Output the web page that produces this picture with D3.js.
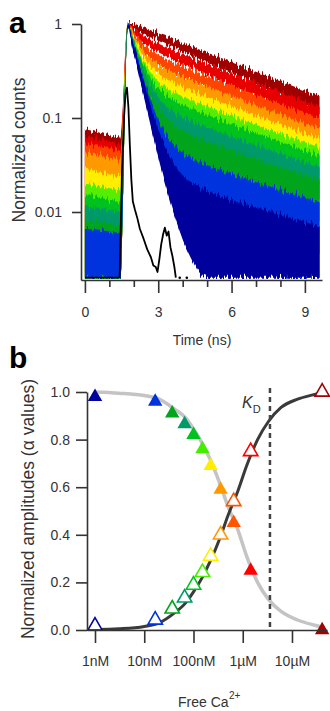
<!DOCTYPE html>
<html>
<head>
<meta charset="utf-8">
<script src="https://cdn.jsdelivr.net/npm/d3@7"></script>
<style>
  body { margin: 0; background: #fff; }
  svg { display: block; font-family: "Liberation Sans", Arial, sans-serif; }
</style>
</head>
<body>
<svg id="chart" width="330" height="711"></svg>
<script>
// ---- panel a: normalized fluorescence decays (upper / lower edge of each noisy trace)
const timeNs = [0.0, 0.5, 1.0, 1.45, 1.75, 2.0, 2.25, 2.5, 2.75, 3.25, 3.75, 4.25, 5.0, 6.0, 7.0, 8.0, 9.6];

const hiDarkRed = [0.076, 0.071, 0.066, 0.062, 1, 1, 0.958, 0.902, 0.849, 0.754, 0.669, 0.594, 0.497, 0.393, 0.311, 0.246, 0.1705];
const loDarkRed = [0.002, 0.002, 0.002, 0.002, 0.92, 0.862, 0.807, 0.756, 0.708, 0.621, 0.544, 0.477, 0.39, 0.299, 0.228, 0.173, 0.1105];
const hiRed = [0.063, 0.06, 0.056, 0.052, 1, 0.912, 0.802, 0.725, 0.667, 0.579, 0.511, 0.453, 0.379, 0.3, 0.238, 0.189, 0.131];
const loRed = [0.002, 0.002, 0.002, 0.002, 0.92, 0.765, 0.665, 0.595, 0.542, 0.464, 0.4025, 0.351, 0.287, 0.219, 0.166, 0.1255, 0.0794];
const hiOrangeRed = [0.054, 0.051, 0.048, 0.045, 1, 0.825, 0.674, 0.579, 0.516, 0.435, 0.38, 0.336, 0.281, 0.223, 0.177, 0.141, 0.0987];
const loOrangeRed = [0.002, 0.002, 0.002, 0.002, 0.92, 0.686, 0.549, 0.464, 0.407, 0.336, 0.287, 0.249, 0.203, 0.154, 0.116, 0.0872, 0.0545];
const hiOrange = [0.043, 0.041, 0.038, 0.036, 1, 0.768, 0.589, 0.483, 0.416, 0.339, 0.293, 0.258, 0.216, 0.172, 0.137, 0.109, 0.0768];
const loOrange = [0.002, 0.002, 0.002, 0.002, 0.92, 0.634, 0.4725, 0.378, 0.319, 0.252, 0.2125, 0.183, 0.148, 0.112, 0.0837, 0.0625, 0.0384];
const hiYellow = [0.029, 0.027, 0.025, 0.024, 1, 0.726, 0.526, 0.411, 0.342, 0.268, 0.228, 0.2, 0.167, 0.133, 0.1065, 0.0854, 0.0603];
const loYellow = [0.002, 0.002, 0.002, 0.002, 0.92, 0.596, 0.416, 0.315, 0.254, 0.191, 0.158, 0.1345, 0.108, 0.0809, 0.0603, 0.0446, 0.0269];
const hiLime = [0.02, 0.019, 0.018, 0.017, 1, 0.696, 0.482, 0.361, 0.289, 0.217, 0.182, 0.159, 0.133, 0.106, 0.0849, 0.0682, 0.0484];
const loLime = [0.002, 0.002, 0.002, 0.002, 0.92, 0.569, 0.377, 0.271, 0.209, 0.149, 0.12, 0.101, 0.0806, 0.0599, 0.0443, 0.0324, 0.019];
const hiGreen = [0.0155, 0.0145, 0.0135, 0.013, 1, 0.675, 0.45, 0.324, 0.252, 0.181, 0.149, 0.129, 0.108, 0.0862, 0.0692, 0.0558, 0.0398];
const loGreen = [0.002, 0.002, 0.002, 0.002, 0.92, 0.5495, 0.349, 0.239, 0.178, 0.119, 0.0929, 0.0776, 0.0612, 0.0452, 0.033, 0.0238, 0.0136];
const hiTeal = [0.0115, 0.011, 0.0105, 0.01, 1, 0.651, 0.415, 0.284, 0.21, 0.14, 0.111, 0.0958, 0.0798, 0.064, 0.0515, 0.0418, 0.03];
const loTeal = [0.002, 0.002, 0.002, 0.002, 0.92, 0.528, 0.318, 0.205, 0.1425, 0.0862, 0.064, 0.0522, 0.0406, 0.0294, 0.0211, 0.0148, 0.008];
const hiDarkGreen = [0.0082, 0.008, 0.0075, 0.0072, 1, 0.632, 0.387, 0.251, 0.175, 0.106, 0.0804, 0.0679, 0.0562, 0.0452, 0.0366, 0.0299, 0.0216];
const loDarkGreen = [0.002, 0.002, 0.002, 0.002, 0.92, 0.511, 0.293, 0.177, 0.114, 0.0602, 0.041, 0.0321, 0.0242, 0.017, 0.0118, 0.0079, 0.0036];
const hiBlue = [0.0066, 0.0065, 0.0062, 0.006, 1, 0.613, 0.358, 0.218, 0.14, 0.0718, 0.0484, 0.0388, 0.0317, 0.0256, 0.0209, 0.0172, 0.0127];
const loBlue = [0.002, 0.002, 0.002, 0.002, 0.92, 0.494, 0.269, 0.15, 0.0865, 0.0348, 0.019, 0.013, 0.0089, 0.0056, 0.0033, 0.002, 0.002];
const hiNavy = [0.002, 0.002, 0.002, 0.002, 1, 0.602, 0.342, 0.2, 0.121, 0.052, 0.0296, 0.0216, 0.0169, 0.0135, 0.0113, 0.0094, 0.007];
const loNavy = [0.002, 0.002, 0.002, 0.002, 0.92, 0.484, 0.255, 0.134, 0.0713, 0.0214, 0.0078, 0.0036, 0.002, 0.002, 0.002, 0.002, 0.002];

// instrument response (black)
const irfTime = [0.0, 1.42, 1.52, 1.6, 1.66, 1.72, 1.78, 1.84, 1.9, 1.96, 2.05, 2.15, 2.25, 2.4, 2.55, 2.7, 2.8, 2.9, 2.97, 3.05, 3.12, 3.2, 3.27, 3.35, 3.42, 3.5, 3.58, 3.66, 3.72];
const irfValue = [0.002, 0.002, 0.03, 0.1, 0.18, 0.21, 0.13, 0.05, 0.022, 0.013, 0.0105, 0.0085, 0.0066, 0.0052, 0.004, 0.0033, 0.0027, 0.0026, 0.0023, 0.0032, 0.0045, 0.0058, 0.0068, 0.0056, 0.0062, 0.0042, 0.0034, 0.0026, 0.002];
const irfDots = [3.88, 4.17];

const tickA = [1, 0.1, 0.01];
const majorTimeTicks = [0, 3, 6, 9];
const minorTimeTicks = [1, 2, 4, 5, 7, 8];

// ---- panel b: amplitudes vs free Ca2+
const concNM = [1, 16.7, 37, 66, 100, 152, 223, 355, 655, 1450, 41000];
const filledAmp = [0.98, 0.96, 0.91, 0.865, 0.82, 0.76, 0.69, 0.59, 0.45, 0.25, 0.0];
const openAmp = [0.017, 0.042, 0.089, 0.135, 0.189, 0.242, 0.31, 0.4, 0.54, 0.75, 1.0];
const pointColors = ["#00009c", "#0033dd", "#00a51c", "#009a6a", "#00c21f", "#44ee00", "#ffee00", "#ff9900", "#ff5500", "#ff0000", "#a50000"];

const fitConc = [1, 3, 10, 20, 40, 70, 100, 150, 220, 350, 500, 800, 1200, 2000, 3300, 6000, 13000, 29000, 41000];
const fitDown = [1.0, 0.995, 0.985, 0.97, 0.93, 0.89, 0.845, 0.785, 0.715, 0.61, 0.52, 0.42, 0.31, 0.2, 0.13, 0.078, 0.042, 0.02, 0.012];
const fitUp = [0.002, 0.005, 0.015, 0.03, 0.07, 0.115, 0.16, 0.22, 0.29, 0.39, 0.48, 0.585, 0.69, 0.8, 0.875, 0.935, 0.97, 0.99, 0.998];
const kdNM = 3570;

const concTicks = [1, 10, 100, 1000, 10000];
const concLabels = ["1nM", "10nM", "100nM", "1µM", "10µM"];
const ampTicks = [0, 0.2, 0.4, 0.6, 0.8, 1.0];

const decays = [
  { color: "#a00000", hi: hiDarkRed, lo: loDarkRed },
  { color: "#e80000", hi: hiRed, lo: loRed },
  { color: "#ff4400", hi: hiOrangeRed, lo: loOrangeRed },
  { color: "#ff9900", hi: hiOrange, lo: loOrange },
  { color: "#ffee00", hi: hiYellow, lo: loYellow },
  { color: "#55ee00", hi: hiLime, lo: loLime },
  { color: "#00c21f", hi: hiGreen, lo: loGreen },
  { color: "#009a6a", hi: hiTeal, lo: loTeal },
  { color: "#00a51c", hi: hiDarkGreen, lo: loDarkGreen },
  { color: "#0033dd", hi: hiBlue, lo: loBlue },
  { color: "#00009c", hi: hiNavy, lo: loNavy },
];

const svg = d3.select("#chart");
const ink = "#333";

const styleAxis = (g) => {
  g.selectAll("path,line").attr("stroke", ink).attr("stroke-width", 1.6);
  g.selectAll("text").attr("fill", ink).attr("font-size", 14)
    .attr("font-family", "Liberation Sans, Arial, sans-serif");
};

// ================= panel a =================
const xA = d3.scaleLinear().domain([-0.16, 9.7]).range([81, 322]);
const yA = d3.scaleLog().domain([0.00189, 1]).range([280, 24]);

const defs = svg.append("defs");
defs.append("clipPath").attr("id", "clipA")
  .append("rect").attr("x", 81).attr("y", 16).attr("width", 242).attr("height", 263);

// photon-counting noise look: vertical jitter of each trace edge
decays.forEach((s, i) => {
  const f = defs.append("filter").attr("id", `noise${i}`)
    .attr("filterUnits", "userSpaceOnUse")
    .attr("x", 70).attr("y", 0).attr("width", 270).attr("height", 300)
    .attr("color-interpolation-filters", "sRGB");
  f.append("feTurbulence").attr("type", "fractalNoise")
    .attr("baseFrequency", "0.45 0").attr("numOctaves", 2).attr("seed", i * 7 + 3).attr("result", "t");
  f.append("feColorMatrix").attr("in", "t").attr("type", "matrix")
    .attr("values", "0 0 0 0 0.5  0 1 0 0 0  0 0 0 0 0  0 0 0 0 1").attr("result", "m");
  f.append("feDisplacementMap").attr("in", "SourceGraphic").attr("in2", "m")
    .attr("scale", 16).attr("xChannelSelector", "R").attr("yChannelSelector", "G");
});

const plotA = svg.append("g").attr("clip-path", "url(#clipA)");
const band = d3.area()
  .x((d) => xA(d[0]))
  .y0((d) => yA(d[1]))
  .y1((d) => yA(d[2]))
  .curve(d3.curveMonotoneX);

decays.forEach((s, i) => {
  plotA.append("path")
    .attr("fill", s.color)
    .attr("filter", `url(#noise${i})`)
    .attr("d", band(timeNs.map((t, j) => [t, s.lo[j], s.hi[j]])));
});

plotA.append("path")
  .attr("fill", "none")
  .attr("stroke", "#000")
  .attr("stroke-width", 1.8)
  .attr("stroke-linejoin", "round")
  .attr("d", d3.line().x((d) => xA(d[0])).y((d) => yA(d[1]))(d3.zip(irfTime, irfValue)));

plotA.selectAll("circle.dot").data(irfDots).join("circle")
  .attr("cx", (d) => xA(d)).attr("cy", yA(0.002)).attr("r", 1.3).attr("fill", "#000");

svg.append("g").attr("transform", "translate(81,0)")
  .call(d3.axisLeft(yA).tickValues(tickA).tickFormat(d3.format("~g"))
    .tickSize(9).tickPadding(10).tickSizeOuter(0))
  .call(styleAxis);

svg.append("g").attr("transform", "translate(0,280)")
  .call(d3.axisBottom(xA).tickValues(majorTimeTicks).tickSize(13).tickPadding(14).tickSizeOuter(0))
  .call(styleAxis);
svg.append("g").attr("transform", "translate(0,280)")
  .call(d3.axisBottom(xA).tickValues(minorTimeTicks).tickSize(7).tickFormat("").tickSizeOuter(0))
  .call(styleAxis)
  .call((g) => g.select(".domain").remove());

svg.append("text").attr("x", 202).attr("y", 345).attr("text-anchor", "middle")
  .attr("font-size", 14).attr("fill", ink).text("Time (ns)");
svg.append("text").attr("transform", "translate(25,150) rotate(-90)").attr("text-anchor", "middle")
  .attr("font-size", 17.5).attr("fill", ink).text("Normalized counts");
svg.append("text").attr("x", 9).attr("y", 33).attr("font-size", 30).attr("font-weight", "bold").text("a");

// ================= panel b =================
const xB = d3.scaleLog().domain([0.688, 51400]).range([87, 327]);
const yB = d3.scaleLinear().domain([0, 1]).range([630, 392]);

const fitLine = (vals) => d3.line()
  .x((d, i) => xB(fitConc[i]))
  .y((d) => yB(d))
  .curve(d3.curveMonotoneX)(vals);

svg.append("path").attr("fill", "none").attr("stroke", "#c4c4c4").attr("stroke-width", 3.5)
  .attr("d", fitLine(fitDown));
svg.append("path").attr("fill", "none").attr("stroke", "#3a3a3a").attr("stroke-width", 3)
  .attr("d", fitLine(fitUp));

svg.append("line")
  .attr("x1", xB(kdNM)).attr("x2", xB(kdNM)).attr("y1", 388).attr("y2", 630)
  .attr("stroke", "#444").attr("stroke-width", 2.5).attr("stroke-dasharray", "5,4");

const tri = d3.symbol().type(d3.symbolTriangle).size(90)();
svg.append("g").selectAll("path").data(concNM).join("path")
  .attr("d", tri)
  .attr("transform", (d, i) => `translate(${xB(d)},${yB(openAmp[i])})`)
  .attr("fill", "#fff").attr("stroke", (d, i) => pointColors[i]).attr("stroke-width", 1.6);
svg.append("g").selectAll("path").data(concNM).join("path")
  .attr("d", tri)
  .attr("transform", (d, i) => `translate(${xB(d)},${yB(filledAmp[i])})`)
  .attr("fill", (d, i) => pointColors[i]);

svg.append("g").attr("transform", "translate(87,0)")
  .call(d3.axisLeft(yB).tickValues(ampTicks).tickFormat(d3.format(".1f"))
    .tickSize(11).tickPadding(6).tickSizeOuter(0))
  .call(styleAxis);
svg.append("g").attr("transform", "translate(0,630)")
  .call(d3.axisBottom(xB).tickValues(concTicks).tickFormat((d, i) => concLabels[i])
    .tickSize(13).tickPadding(13).tickSizeOuter(0))
  .call(styleAxis);

const kd = svg.append("text").attr("x", 242).attr("y", 408).attr("font-size", 16).attr("fill", ink);
kd.append("tspan").attr("font-style", "italic").text("K");
kd.append("tspan").attr("font-size", 11).attr("dy", 5).text("D");

svg.append("text").attr("x", 178).attr("y", 707).attr("font-size", 14).attr("fill", ink).text("Free Ca");
svg.append("text").attr("x", 229).attr("y", 699).attr("font-size", 10).attr("fill", ink).text("2+");
svg.append("text").attr("transform", "translate(34,509) rotate(-90)").attr("text-anchor", "middle")
  .attr("font-size", 17.5).attr("fill", ink).text("Normalized amplitudes (α values)");
svg.append("text").attr("x", 9).attr("y", 368).attr("font-size", 30).attr("font-weight", "bold").text("b");
</script>
</body>
</html>
